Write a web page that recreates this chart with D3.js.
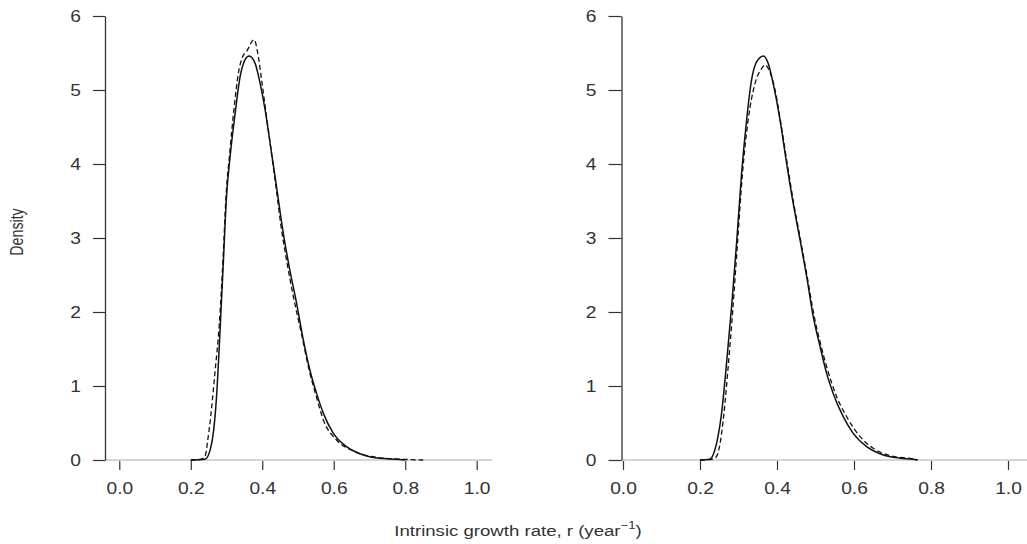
<!DOCTYPE html>
<html>
<head>
<meta charset="utf-8">
<script src="https://cdn.jsdelivr.net/npm/d3@7"></script>
<style>
  body { margin: 0; background: #fff; }
  text { font-family: "Liberation Sans", Arial, sans-serif; fill: #333; }
</style>
</head>
<body>
<script>
// density estimates, [r, density]
const leftSolid = [
  [0.20, 0], [0.24, 0.01], [0.255, 0.15], [0.264, 0.40], [0.272, 0.85], [0.282, 1.76],
  [0.291, 2.66], [0.300, 3.56], [0.310, 4.10], [0.324, 4.68], [0.338, 5.18],
  [0.352, 5.41], [0.363, 5.46], [0.380, 5.36], [0.394, 5.09], [0.408, 4.73],
  [0.422, 4.28], [0.440, 3.69], [0.459, 3.06], [0.477, 2.57], [0.496, 2.12],
  [0.515, 1.62], [0.533, 1.22], [0.552, 0.90], [0.571, 0.63], [0.599, 0.36],
  [0.636, 0.18], [0.683, 0.068], [0.729, 0.023], [0.785, 0.008], [0.80, 0]
]
const leftDashed = [
  [0.20, 0], [0.228, 0.01], [0.240, 0.05], [0.247, 0.25], [0.256, 0.60], [0.268, 1.20],
  [0.280, 1.85], [0.290, 2.70], [0.299, 3.60], [0.309, 4.15], [0.321, 4.75],
  [0.334, 5.25], [0.345, 5.45], [0.356, 5.52], [0.377, 5.68], [0.389, 5.45],
  [0.398, 5.14], [0.417, 4.46], [0.436, 3.78], [0.454, 3.11], [0.468, 2.70],
  [0.487, 2.21], [0.510, 1.70], [0.530, 1.24], [0.550, 0.88], [0.571, 0.54],
  [0.608, 0.27], [0.655, 0.12], [0.729, 0.03], [0.80, 0.008], [0.85, 0]
]
const rightSolid = [
  [0.20, 0], [0.225, 0.01], [0.235, 0.08], [0.243, 0.225], [0.256, 0.63], [0.269, 1.31],
  [0.282, 2.07], [0.295, 2.93], [0.308, 3.87], [0.321, 4.59], [0.334, 5.14],
  [0.347, 5.38], [0.365, 5.46], [0.377, 5.36], [0.390, 5.09], [0.408, 4.59],
  [0.425, 4.01], [0.442, 3.47], [0.460, 2.97], [0.477, 2.48], [0.494, 1.94],
  [0.512, 1.53], [0.529, 1.17], [0.546, 0.90], [0.572, 0.585], [0.598, 0.36],
  [0.633, 0.18], [0.676, 0.068], [0.720, 0.025], [0.754, 0.01], [0.765, 0]
]
const rightDashed = [
  [0.20, 0], [0.232, 0.01], [0.243, 0.05], [0.252, 0.22], [0.262, 0.62], [0.273, 1.25],
  [0.285, 2.02], [0.297, 2.90], [0.310, 3.85], [0.325, 4.59], [0.343, 5.09],
  [0.360, 5.29], [0.369, 5.34], [0.381, 5.25], [0.395, 5.00], [0.410, 4.55],
  [0.427, 3.99], [0.444, 3.45], [0.462, 2.95], [0.479, 2.46], [0.497, 1.93],
  [0.514, 1.55], [0.529, 1.26], [0.555, 0.855], [0.581, 0.585], [0.616, 0.315],
  [0.650, 0.158], [0.693, 0.06], [0.754, 0.013], [0.765, 0]
]
const xTicks = [0, 0.2, 0.4, 0.6, 0.8, 1.0]
const yTicks = [0, 1, 2, 3, 4, 5, 6]

const W = 1027, H = 544
const SX = 1.2 // the picture's text is stretched sideways

const svg = d3.select('body').append('svg')
  .attr('width', W)
  .attr('height', H)

const y = d3.scaleLinear().domain([0, 6]).range([460, 16])

const panels = [
  { solid: leftSolid, dashed: leftDashed, x: d3.scaleLinear().domain([0, 1]).range([119.3, 476.7]), axisX: 105, lineEnd: 492, tick: 12 },
  { solid: rightSolid, dashed: rightDashed, x: d3.scaleLinear().domain([0, 1]).range([623, 1008]), axisX: 621.5, lineEnd: 1027, tick: 13 }
]

const styleTicks = (sel) => sel
  .attr('font-size', 16)
  .attr('fill', '#333')
  .attr('font-family', '"Liberation Sans", Arial, sans-serif')

panels.forEach(p => {
  const g = svg.append('g')

  // zero line
  g.append('line')
    .attr('x1', p.axisX).attr('x2', p.lineEnd)
    .attr('y1', y(0)).attr('y2', y(0))
    .attr('stroke', '#aaa').attr('stroke-width', 1)

  // y axis
  const yAxis = g.append('g')
    .attr('transform', `translate(${p.axisX},0)`)
    .call(d3.axisLeft(y).tickValues(yTicks).tickFormat(d3.format('d')).tickSize(p.tick).tickSizeOuter(0).tickPadding(12))
  yAxis.select('.domain').attr('stroke', '#333').attr('stroke-width', 1.3)
  yAxis.selectAll('.tick line').attr('stroke', '#333').attr('stroke-width', 1.2)
  yAxis.selectAll('.tick text').call(styleTicks)
    .attr('x', -(p.tick + 12) / SX)
    .attr('transform', `scale(${SX},1)`)

  // x axis: ticks only, no domain line
  const xAxis = g.append('g')
    .attr('transform', `translate(0,${y(0) + 1})`)
    .call(d3.axisBottom(p.x).tickValues(xTicks).tickFormat(d3.format('.1f')).tickSize(9).tickPadding(13))
  xAxis.select('.domain').remove()
  xAxis.selectAll('.tick line').attr('stroke', '#333').attr('stroke-width', 1.2)
  xAxis.selectAll('.tick text').call(styleTicks)
    .attr('transform', `scale(${SX},1)`)

  const line = d3.line()
    .curve(d3.curveMonotoneX)
    .x(d => p.x(d[0]))
    .y(d => y(d[1]))

  g.append('path')
    .datum(p.dashed)
    .attr('d', line)
    .attr('fill', 'none')
    .attr('stroke', '#111')
    .attr('stroke-width', 1.3)
    .attr('stroke-dasharray', '5 3')

  g.append('path')
    .datum(p.solid)
    .attr('d', line)
    .attr('fill', 'none')
    .attr('stroke', '#111')
    .attr('stroke-width', 1.5)
})

// axis titles
svg.append('text')
  .attr('transform', 'translate(23,232) rotate(-90) scale(0.95,1.2)')
  .attr('text-anchor', 'middle')
  .attr('font-size', 15)
  .text('Density')

const xl = svg.append('text')
  .attr('transform', `translate(518,536) scale(${SX},1)`)
  .attr('text-anchor', 'middle')
  .attr('font-size', 15.5)
xl.append('tspan').text('Intrinsic growth rate, r (year')
xl.append('tspan').attr('font-size', 11).attr('dy', -7).text('\u22121')
xl.append('tspan').attr('dy', 7).text(')')
</script>
</body>
</html>
